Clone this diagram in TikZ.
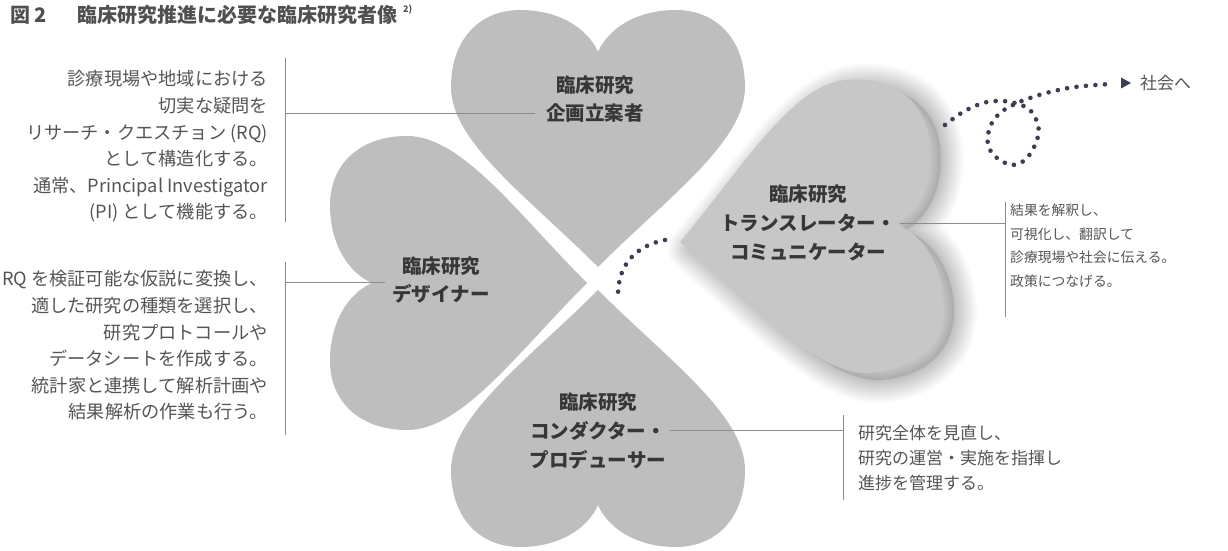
\documentclass[tikz,border=0pt]{standalone}
\usepackage{fontspec}
\setmainfont{Noto Sans CJK JP}
\usetikzlibrary{calc}
\definecolor{heartgray}{RGB}{190,190,190}
\definecolor{heartlight}{RGB}{199,199,199}
\definecolor{txtgray}{RGB}{85,85,85}
\definecolor{lblgray}{RGB}{55,55,55}
\definecolor{titlegray}{RGB}{80,80,80}
\definecolor{linegray}{RGB}{140,140,140}
\definecolor{dotcol}{RGB}{60,62,85}
\newcommand\heartshape[1]{\path[#1] (0,0) .. controls (-70,70) and (-147,125) .. (-147,180) .. controls (-147,228) and (-118,257) .. (-78,257) .. controls (-38,257) and (-10,238) .. (0,215) .. controls (10,238) and (38,257) .. (78,257) .. controls (118,257) and (147,228) .. (147,180) .. controls (147,125) and (70,70) .. (0,0) -- cycle;}
\tikzset{
  body/.style={text=txtgray, font=\fontsize{18.2}{26.6}\selectfont, inner sep=0pt},
  bodyright/.style={text=txtgray, font=\fontsize{13.8}{23.5}\selectfont, inner sep=0pt, align=left},
  bodybottom/.style={text=txtgray, font=\fontsize{17}{25}\selectfont, inner sep=0pt, align=left},
  lbl/.style={text=lblgray, font=\bfseries\fontsize{19.5}{28.8}\selectfont, align=center, inner sep=0pt},
  titletext/.style={text=titlegray, font=\bfseries\fontsize{20}{22}\selectfont, inner sep=0pt},
  conn/.style={draw=linegray, line width=0.9pt},
  dotline/.style={draw=dotcol, line width=4.6pt, line cap=round, dash pattern=on 0pt off 9.5pt},
}
\begin{document}
\begin{tikzpicture}[x=1pt,y=1pt]
\useasboundingbox (0,0) rectangle (1228,551);
\fill[white] (0,0) rectangle (1228,551);

% title
\node[titletext, anchor=west] (fig) at (10,536) {図 2};
\node[titletext, anchor=west] (ttl) at (77,536) {臨床研究推進に必要な臨床研究者像};
\node[text=titlegray, font=\bfseries\fontsize{9}{10}\selectfont, inner sep=0pt, anchor=west] (sup) at (403,541) {2)};

% hearts
\heartshape{fill=heartgray, shift={(598,284)}}
\heartshape{fill=heartgray, shift={(587,268)}, rotate=90}
\heartshape{fill=heartgray, shift={(598,261)}, rotate=180}
% soft shadow of right heart
\foreach \w in {46,43,...,1}{
  \heartshape{draw=black, line width=\w pt, draw opacity=0.014, line join=round, shift={(691,302)}, rotate=-85}
}
\heartshape{fill=black, fill opacity=0.1, shift={(691,302)}, rotate=-85}
\heartshape{fill=heartlight, shift={(680,309)}, rotate=-85}

% heart labels
\node[lbl] (top) at (595,452) {臨床研究\\企画立案者};
\node[lbl] (lft) at (441,271) {臨床研究\\デザイナー};
\node[lbl] (bot) at (598,120) {臨床研究\\コンダクター・\\プロデューサー};
\node[lbl] (rgt) at (808,328) {臨床研究\\トランスレーター・\\コミュニケーター};

% text blocks
\node[body, align=right, anchor=east] (t1) at (268,404.5) {診療現場や地域における\\切実な疑問を\\リサーチ・クエスチョン (RQ)\\として構造化する。\\通常、Principal Investigator\\(PI) として機能する。};
\node[body, align=right, anchor=east] (t2) at (268,205.5) {RQ を検証可能な仮説に変換し、\\適した研究の種類を選択し、\\研究プロトコールや\\データシートを作成する。\\統計家と連携して解析計画や\\結果解析の作業も行う。};
\node[bodyright, anchor=west] (t3) at (1010,305) {結果を解釈し、\\可視化し、翻訳して\\診療現場や社会に伝える。\\政策につなげる。};
\node[bodybottom, anchor=west] (t4) at (858,93) {研究全体を見直し、\\研究の運営・実施を指揮し\\進捗を管理する。};

% bars and connectors
\coordinate (b1t) at (285,493); \coordinate (b1b) at (285,329);
\coordinate (b2t) at (285,289); \coordinate (b2b) at (285,116);
\coordinate (b3t) at (1005,349); \coordinate (b3b) at (1005,234);
\coordinate (b4t) at (843,136); \coordinate (b4b) at (843,51);
\draw[conn] (b1t) -- (b1b);
\draw[conn] (b2t) -- (b2b);
\draw[conn] (b3t) -- (b3b);
\draw[conn] (b4t) -- (b4b);
\coordinate (e1) at (535,437.5);
\coordinate (e2) at (385,269);
\coordinate (e3) at (900,328);
\coordinate (e4) at (670,121);
\draw[conn] (e1) -- (b1t |- e1);
\draw[conn] (e2) -- (b2t |- e2);
\draw[conn] (e3) -- (b3t |- e3);
\draw[conn] (e4) -- (b4t |- e4);

% dotted curves
\coordinate (d1s) at (665,311);
\coordinate (d1e) at (618,256);
\draw[dotline] (d1s) .. controls (640,306) and (618,290) .. (d1e);

\draw[dotline] plot[smooth, tension=0.6] coordinates {(945,426) (963,439) (983,448) (1000,450) (1015,448) (1030,441) (1038,426) (1037,411) (1027,393) (1013,386) (997,393) (988,406) (990,424) (1000,438) (1015,447) (1030,453) (1050,459) (1075,464) (1110,467)};
\coordinate (ah) at (1131,468);
\fill[dotcol] (ah) -- ++(-10,5.5) -- ++(0,-11) -- cycle;
\node[text=txtgray, font=\fontsize{17}{20}\selectfont, inner sep=0pt, anchor=west] (soc) at (1140,468) {社会へ};
\end{tikzpicture}
\end{document}
